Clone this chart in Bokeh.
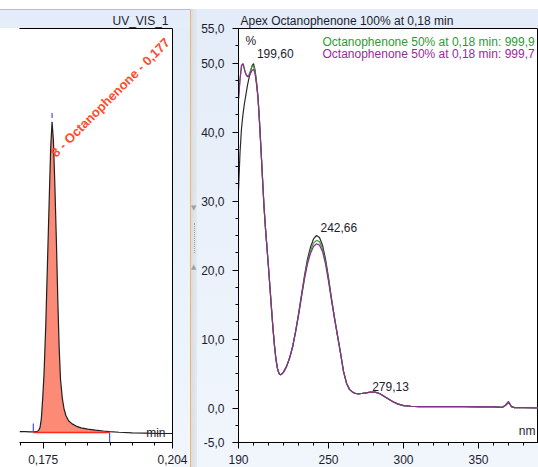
import numpy as np
from bokeh.plotting import figure
from bokeh.models import (Range1d, FixedTicker, CustomJSTickFormatter, Label, Div, LinearAxis)
from bokeh.layouts import row, column
from bokeh.embed import file_html
from bokeh.resources import INLINE

# ---------------- data: chromatogram (UV_VIS_1) ----------------
chrom_time = [0.1697, 0.1710, 0.1720, 0.1728, 0.1736, 0.1740, 0.1743, 0.1746, 0.1749,
              0.1752, 0.1756, 0.1760, 0.1764, 0.1767, 0.1770, 0.1773, 0.1776, 0.1780,
              0.1783, 0.1786, 0.1789, 0.1793, 0.1797, 0.1801, 0.1807, 0.1815, 0.1825,
              0.1835, 0.1850, 0.1867, 0.1885, 0.1899, 0.1920, 0.1950, 0.1980, 0.2010, 0.2040]
chrom_signal = [0.3, 0.3, 0.25, 0.2, 0.3, 0.7, 1.6, 4.5, 11.0,
                19.0, 35.0, 56.0, 77.0, 92.0, 100.0, 94.0, 81.0, 60.0,
                42.0, 27.0, 17.0, 11.0, 7.5, 5.5, 3.8, 2.8, 2.0,
                1.5, 1.1, 0.8, 0.5, 0.3, 0.1, -0.1, -0.2, -0.3, -0.3]
peak_label = "8 - Octanophenone - 0,177"
peak_apex_time = 0.1770
peak_apex_height = 100.0
peak_start = 0.1728
peak_end = 0.1899
baseline_level = 0.0
chrom_x_range = (0.1697, 0.2040)
chrom_y_range = (-3.2, 130.0)
chrom_x_ticks = [0.175, 0.204]
chrom_x_minor = [0.170, 0.180, 0.185, 0.190, 0.195, 0.200]

# ---------------- data: UV spectra ----------------
wavelength = [190, 191, 192, 193, 194, 195, 196, 197, 198, 199, 200, 201, 202, 203, 204,
              205, 206, 207, 208, 209, 210, 211, 212, 213, 214, 215, 216, 217, 218, 219,
              220, 222, 224, 226, 228, 230, 232, 234, 236, 238, 240, 242, 244, 246, 248,
              250, 252, 254, 256, 258, 260, 262, 264, 266, 268, 270, 272, 275, 278, 281,
              284, 287, 290, 293, 296, 300, 305, 310, 320, 330, 340, 350, 360, 366, 368,
              370, 372, 374, 380, 390]
spec_apex = [31.5, 37.0, 40.5, 42.6, 44.2, 45.5, 46.8, 47.8, 48.7, 49.6, 49.9, 49.0, 47.3, 45.1, 41.5,
             37.5, 33.3, 29.2, 26.0, 23.2, 20.4, 17.4, 14.4, 11.5, 9.0, 7.0, 5.7, 5.0, 4.8, 4.95,
             5.2, 6.0, 7.2, 8.8, 11.0, 13.6, 16.4, 19.2, 21.6, 23.3, 24.5, 25.0, 24.7, 23.6, 21.6,
             18.9, 15.9, 13.1, 10.5, 8.0, 5.3, 3.6, 2.7, 2.3, 2.1, 2.05, 2.1, 2.2, 2.3, 2.3,
             2.1, 1.7, 1.3, 0.9, 0.6, 0.35, 0.25, 0.2, 0.2, 0.2, 0.2, 0.15, 0.15, 0.1, 0.35,
             0.8, 0.2, 0.05, 0.05, 0.0]
spec_green = [44.8, 47.6, 49.5, 49.9, 49.1, 48.4, 48.1, 48.3, 48.9, 49.5, 49.6, 48.8, 47.1, 45.0, 41.5,
              37.5, 33.3, 29.2, 26.0, 23.2, 20.4, 17.4, 14.4, 11.5, 9.0, 7.0, 5.7, 5.0, 4.8, 4.95,
              5.2, 6.0, 7.2, 8.8, 11.0, 13.5, 16.2, 18.9, 21.2, 22.8, 23.9, 24.3, 24.1, 23.1, 21.2,
              18.6, 15.7, 13.0, 10.5, 8.0, 5.3, 3.6, 2.7, 2.3, 2.1, 2.05, 2.1, 2.2, 2.3, 2.3,
              2.1, 1.7, 1.3, 0.9, 0.6, 0.35, 0.25, 0.2, 0.2, 0.2, 0.2, 0.15, 0.15, 0.1, 0.4,
              0.9, 0.2, 0.05, 0.05, 0.0]
spec_purple = [44.6, 47.6, 49.7, 49.9, 49.0, 48.3, 48.0, 48.1, 48.5, 48.9, 49.1, 48.5, 46.9, 44.9, 41.4,
               37.5, 33.3, 29.2, 26.0, 23.2, 20.4, 17.4, 14.4, 11.5, 9.0, 7.0, 5.7, 5.0, 4.8, 4.95,
               5.2, 6.0, 7.2, 8.8, 11.0, 13.4, 16.1, 18.7, 20.9, 22.4, 23.4, 23.8, 23.6, 22.7, 20.9,
               18.4, 15.6, 13.0, 10.5, 8.0, 5.3, 3.6, 2.7, 2.3, 2.1, 2.05, 2.1, 2.2, 2.3, 2.3,
               2.1, 1.7, 1.3, 0.9, 0.6, 0.35, 0.25, 0.2, 0.2, 0.2, 0.2, 0.15, 0.15, 0.1, 0.45,
               0.95, 0.2, 0.05, 0.05, 0.0]
spectrum_title = "Apex Octanophenone 100% at 0,18 min"
legend_green = "Octanophenone 50% at 0,18 min: 999,9"
legend_purple = "Octanophenone 50% at 0,18 min: 999,7"
spec_peak_nm = [199.60, 242.66, 279.13]
spec_peak_val = [49.9, 25.0, 2.3]
spec_y_ticks = [-5, 0, 10, 20, 30, 40, 50, 55]
spec_x_ticks = [190, 250, 300, 350]
spec_x_range = (190, 390)
spec_y_range = (-5, 55)

FONT = "Liberation Sans"
TXT = "#1c1c30"
PANEL_GRAD = "linear-gradient(to bottom, #e3ecf8, #f1f6fc)"


def style_axis(ax, standoff):
    ax.major_tick_out = 6
    ax.major_tick_in = 0
    ax.minor_tick_out = 3
    ax.minor_tick_in = 0
    ax.axis_line_color = "black"
    ax.major_tick_line_color = "black"
    ax.minor_tick_line_color = "black"
    ax.major_label_text_font = FONT
    ax.major_label_text_font_size = "12px"
    ax.major_label_text_color = TXT
    ax.major_label_standoff = standoff


# ---------------- left panel: chromatogram ----------------
pl = figure(width=190, height=457, output_backend="svg", toolbar_location=None,
            x_range=Range1d(*chrom_x_range), y_range=Range1d(*chrom_y_range),
            y_axis_location=None, min_border_left=19, min_border_right=18,
            min_border_top=18, min_border_bottom=25, title="UV_VIS_1")
pl.outline_line_color = None
pl.grid.visible = False
pl.border_fill_color = None
pl.background_fill_color = "white"
pl.styles = {"background": "linear-gradient(#e3ecf8, #e5eef9) 0 0 / 100% 18px no-repeat, "
                           "linear-gradient(to right, #ffffff 172px, transparent 172px), "
                           + PANEL_GRAD}
pl.title.text_font = FONT
pl.title.text_font_size = "12px"
pl.title.text_font_style = "normal"
pl.title.text_color = TXT
pl.title.align = "right"
pl.title.offset = 4
pl.title.standoff = 2

xa = pl.xaxis[0]
style_axis(xa, 6)
xa.ticker = FixedTicker(ticks=chrom_x_ticks, minor_ticks=chrom_x_minor)
xa.formatter = CustomJSTickFormatter(code="return tick.toFixed(3).replace('.', ',');")

for loc in ("above", "right"):
    edge = LinearAxis(ticker=FixedTicker(ticks=[]), major_tick_out=0, minor_tick_out=0,
                      major_label_text_font_size="0px", axis_line_color="black")
    pl.add_layout(edge, loc)

t = np.array(chrom_time)
s = np.array(chrom_signal)
m = (t >= peak_start) & (t <= peak_end)
pl.varea(x=t[m], y1=np.full(m.sum(), baseline_level), y2=s[m], fill_color="#fb8a76")
pl.line(t, s, line_color="#202020", line_width=1.2)
pl.segment(x0=[peak_start], y0=[baseline_level], x1=[peak_end], y1=[baseline_level],
           line_color="#ff2a1a", line_width=1.5)
pl.segment(x0=[peak_start, peak_end, peak_apex_time],
           y0=[baseline_level, baseline_level, peak_apex_height + 1.2],
           x1=[peak_start, peak_end, peak_apex_time],
           y1=[baseline_level + 2.9, chrom_y_range[0], peak_apex_height + 2.8],
           line_color="#4a4aff", line_width=1.2)

pl.add_layout(Label(x=peak_apex_time, y=peak_apex_height, x_offset=1, y_offset=-33,
                    angle=45, angle_units="deg", text=peak_label, text_font=FONT,
                    text_font_size="13px", text_font_style="bold", text_color="#ff4b2e",
                    text_align="left", text_baseline="alphabetic"))
pl.add_layout(Label(x=chrom_x_range[1], y=chrom_y_range[0], x_offset=-7, y_offset=10, text="min",
                    text_font=FONT, text_font_size="12px", text_color=TXT,
                    text_align="right", text_baseline="middle"))

# ---------------- right panel: spectra ----------------
pr = figure(width=341, height=458, output_backend="svg", toolbar_location=None,
            x_range=Range1d(*spec_x_range), y_range=Range1d(*spec_y_range),
            min_border_left=41, min_border_right=0, min_border_top=19, min_border_bottom=25,
            title=spectrum_title)
pr.outline_line_color = "black"
pr.grid.visible = False
pr.border_fill_color = None
pr.background_fill_color = "white"
pr.styles = {"background": PANEL_GRAD}
pr.title.text_font = FONT
pr.title.text_font_size = "12px"
pr.title.text_font_style = "normal"
pr.title.text_color = TXT
pr.title.align = "left"
pr.title.offset = 2
pr.title.standoff = 2

ax = pr.xaxis[0]
style_axis(ax, 6)
ax.ticker = FixedTicker(ticks=spec_x_ticks, minor_ticks=list(range(200, 400, 10)))
ax.formatter = CustomJSTickFormatter(code="return tick.toFixed(0);")
ay = pr.yaxis[0]
style_axis(ay, 8)
ay.ticker = FixedTicker(ticks=spec_y_ticks, minor_ticks=list(np.arange(-5, 55.01, 2.5)))
ay.formatter = CustomJSTickFormatter(code="return tick.toFixed(1).replace('.', ',');")

pr.line(wavelength, spec_apex, line_color="#2a2a2a", line_width=1.2)
pr.line(wavelength, spec_green, line_color="#3c9c3c", line_width=1.2)
pr.line(wavelength, spec_purple, line_color="#8e2d8e", line_width=1.2)

x0, y1 = spec_x_range[0], spec_y_range[1]
pr.add_layout(Label(x=x0, y=y1, x_offset=7, y_offset=-12, text="%", text_font=FONT,
                    text_font_size="12px", text_color=TXT, text_baseline="middle"))
pr.add_layout(Label(x=x0, y=y1, x_offset=84, y_offset=-13, text=legend_green, text_font=FONT,
                    text_font_size="12px", text_color="#2e9a36", text_baseline="middle"))
pr.add_layout(Label(x=x0, y=y1, x_offset=84, y_offset=-25, text=legend_purple, text_font=FONT,
                    text_font_size="12px", text_color="#9a2a9a", text_baseline="middle"))
pk_off = [(4, 10), (3, 8), (0, 6)]
for nm, v, (dx, dy) in zip(spec_peak_nm, spec_peak_val, pk_off):
    pr.add_layout(Label(x=nm, y=v, x_offset=dx, y_offset=dy,
                        text=f"{nm:.2f}".replace(".", ","), text_font=FONT,
                        text_font_size="12px", text_color=TXT,
                        text_align="left", text_baseline="middle"))
pr.add_layout(Label(x=spec_x_range[1], y=spec_y_range[0], x_offset=-3, y_offset=5, text="nm",
                    text_font=FONT, text_font_size="12px", text_color=TXT,
                    text_align="right", text_baseline="bottom"))

# ---------------- frame pieces ----------------
top_strip = Div(width=538, height=9, margin=0, styles={"background-color": "#ffffff"})
orange_top = Div(width=190, height=1, margin=0, styles={"background-color": "#f0b462"})
grip = ('<div style="height:195px"></div>'
        '<div style="height:8px;font-size:7px;line-height:8px;text-align:center;'
        'padding-left:1px;color:#9aa2ac;font-family:DejaVu Sans">&#9660;</div>'
        '<div style="height:11px"></div>'
        '<div style="height:30px;margin-left:4px;border-left:1px dotted #9aa2ac"></div>'
        '<div style="height:10px"></div>'
        '<div style="height:8px;font-size:7px;line-height:8px;text-align:center;'
        'padding-left:1px;color:#9aa2ac;font-family:DejaVu Sans">&#9650;</div>')
splitter = Div(width=7, height=458, margin=0, text=grip,
               styles={"background": "linear-gradient(to right, #f0b462 0px, #f0b462 1px, "
                                     "#d8dee6 1px, #e4e9ef 7px)"})

layout = column(top_strip,
                row(column(orange_top, pl, spacing=0), splitter, pr, spacing=0),
                spacing=0)

open("out.html", "w").write(file_html(layout, INLINE))
